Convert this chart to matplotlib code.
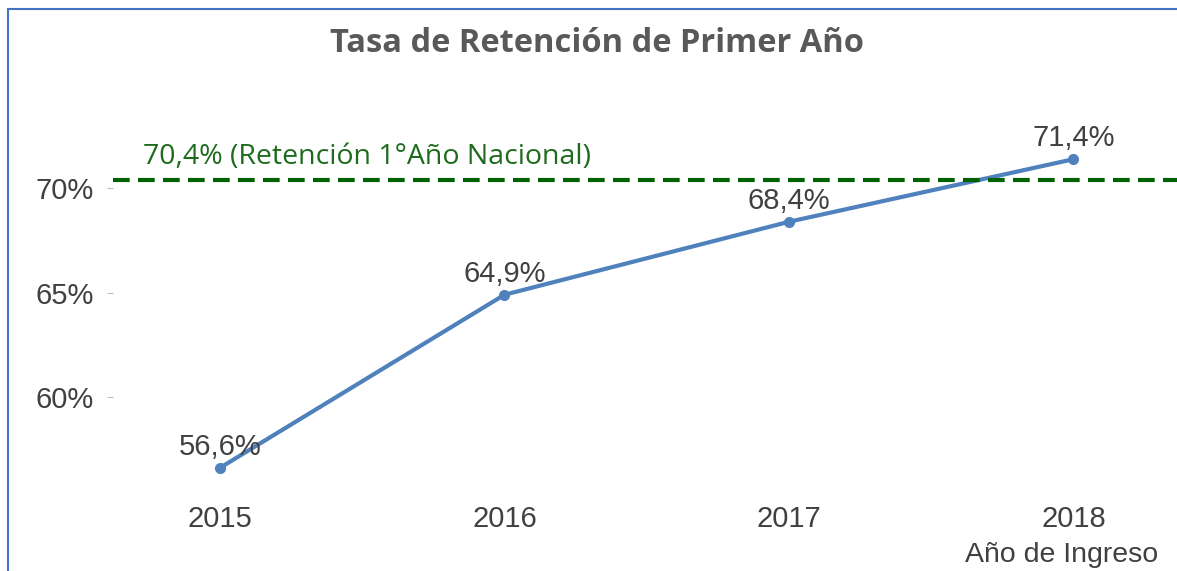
import matplotlib.pyplot as plt
from matplotlib.lines import Line2D

# datos
anios = ['2015', '2016', '2017', '2018']
retencion = [56.6, 64.9, 68.4, 71.4]
etiquetas = ['56,6%', '64,9%', '68,4%', '71,4%']
nacional = 70.4
yticks = [60, 65, 70]

fig = plt.figure(figsize=(11.77, 5.71), dpi=100)
ax = fig.add_axes([113 / 1177, 1 - 497 / 571, (1177 - 113) / 1177, (497 - 105) / 571])

x = range(len(anios))
ax.plot(x, retencion, '-o', color='#4F81BD', linewidth=3, markersize=7)
ax.axhline(nacional, color='#006100', linestyle=(0, (4, 2)), linewidth=3)

for i, (v, t) in enumerate(zip(retencion, etiquetas)):
    ax.annotate(t, (i, v), xytext=(0, 5), textcoords='offset points',
                ha='center', va='bottom', fontsize=21, color='#404040',
                family='Liberation Sans')

ax.text(0.028, nacional + 0.45, '70,4% (Retención 1°Año Nacional)',
        transform=ax.get_yaxis_transform(), fontsize=20.5, color='#1E6B1E',
        family='Open Sans', va='bottom', ha='left')

ax.set_xlim(-0.376, 3.364)
ax.set_ylim(55.2, 74)
ax.set_xticks(list(x))
ax.set_xticklabels(anios, family='Liberation Sans', fontsize=21, color='#404040')
ax.set_yticks(yticks)
ax.set_yticklabels([f'{t}%' for t in yticks], family='Liberation Sans',
                   fontsize=21, color='#404040')
ax.tick_params(axis='y', length=4, color='#BFBFBF', pad=10)
ax.tick_params(axis='x', length=0, pad=6)
for s in ax.spines.values():
    s.set_visible(False)

fig.text(597 / 1177, 1 - 43 / 571, 'Tasa de Retención de Primer Año',
         ha='center', va='center', fontsize=23.5, fontweight='bold',
         color='#595959', family='Open Sans')
fig.text(1158 / 1177, 1 - 555 / 571, 'Año de Ingreso', ha='right', va='center',
         fontsize=20.5, color='#404040', family='Liberation Sans')

# borde azul
fig.add_artist(Line2D([8 / 1177, 8 / 1177], [0, 1 - 9 / 571], color='#4472C4', linewidth=1.5))
fig.add_artist(Line2D([8 / 1177, 1], [1 - 9 / 571, 1 - 9 / 571], color='#4472C4', linewidth=1.5))

fig.savefig('out.png', dpi=100)
